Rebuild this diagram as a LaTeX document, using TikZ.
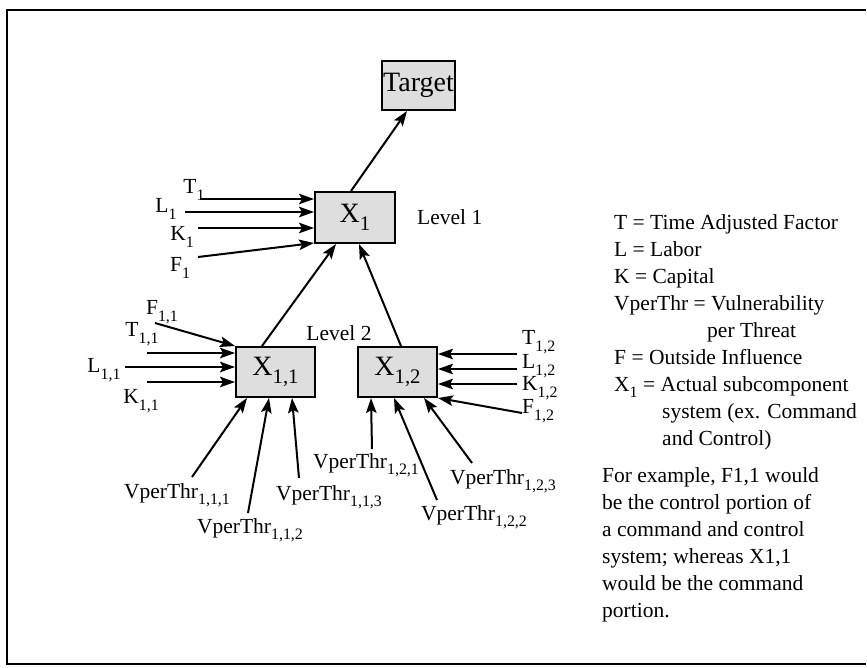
\documentclass[tikz,border=0pt]{standalone}
\usepackage{fontspec}
\usepackage{graphicx}
\setmainfont{Liberation Serif}
\usetikzlibrary{arrows.meta}
\newcommand\lblfont{\fontsize{21.5}{25}\selectfont}
\newcommand\bxfont{\fontsize{28}{32}\selectfont}
\newcommand\sbs[1]{\raisebox{-0.3em}{\scalebox{0.74}{#1}}}
\begin{document}
\begin{tikzpicture}[x=1pt,y=-1pt,
  box/.style={draw, line width=2pt, fill=black!13, inner sep=0pt, font=\bxfont},
  arr/.style={line width=2pt, -{Stealth[length=15pt,width=10.5pt,inset=3pt]}},
  lbl/.style={font=\lblfont, inner sep=0pt},
  lg/.style={font=\lblfont, inner sep=0pt, anchor=base west}]
\useasboundingbox (0,0) rectangle (867,667);
% frame
\draw[line width=1.6pt] (866,10) -- (7,10) -- (7,664) -- (866,664);

% boxes
\node[box, minimum width=73pt, minimum height=49pt] (tgt) at (418.5,85.5) {Target};
\node[box, minimum width=80pt, minimum height=51pt] (x1) at (355,217.5) {X\sbs{1}};
\node[box, minimum width=79pt, minimum height=50pt] (x11) at (275.5,372) {X\sbs{1,1}};
\node[box, minimum width=79pt, minimum height=50pt] (x12) at (397.5,372) {X\sbs{1,2}};

% level links
\draw[arr] ([xshift=37pt]x1.north west) -- ([xshift=26pt]tgt.south west);
\draw[arr] ([xshift=27pt]x11.north west) -- ([xshift=22pt]x1.south west);
\draw[arr] ([xshift=44pt]x12.north west) -- ([xshift=45pt]x1.south west);

% level labels
\node[lbl, anchor=west] (lev1) at (417,217) {Level 1};
\node[lbl] (lev2) at (339,333) {Level 2};

% inputs to X1
\node[lbl] (t1) at (194,190) {T\sbs{1}};
\node[lbl] (l1) at (166,209) {L\sbs{1}};
\node[lbl] (k1) at (182,237) {K\sbs{1}};
\node[lbl] (f1) at (180,268) {F\sbs{1}};
\coordinate (t1s) at (200,199);
\coordinate (l1s) at (185,212);
\coordinate (k1s) at (198,228);
\coordinate (f1s) at (198,257);
\draw[arr] (t1s) -- (t1s -| x1.west);
\draw[arr] (l1s) -- (l1s -| x1.west);
\draw[arr] (k1s) -- (k1s -| x1.west);
\draw[arr] (f1s) -- ([yshift=1pt]x1.south west);

% inputs to X11
\node[lbl] (f11) at (162,312) {F\sbs{1,1}};
\node[lbl] (t11) at (142,334) {T\sbs{1,1}};
\node[lbl] (l11) at (104,370) {L\sbs{1,1}};
\node[lbl] (k11) at (141,401) {K\sbs{1,1}};
\coordinate (f11s) at (155,323);
\coordinate (t11s) at (147,353);
\coordinate (l11s) at (125,367);
\coordinate (k11s) at (147,382);
\draw[arr] (f11s) -- (x11.north west);
\draw[arr] (t11s) -- (t11s -| x11.west);
\draw[arr] (l11s) -- (l11s -| x11.west);
\draw[arr] (k11s) -- (k11s -| x11.west);

% inputs to X12
\node[lbl, anchor=west] (t12) at (522,342) {T\sbs{1,2}};
\node[lbl, anchor=west] (l12) at (522,366) {L\sbs{1,2}};
\node[lbl, anchor=west] (k12) at (522,388) {K\sbs{1,2}};
\node[lbl, anchor=west] (f12) at (522,411) {F\sbs{1,2}};
\coordinate (t12s) at (517,354);
\coordinate (l12s) at (517,369);
\coordinate (k12s) at (517,384);
\coordinate (f12s) at (522,413);
\draw[arr] (t12s) -- (t12s -| x12.east);
\draw[arr] (l12s) -- (l12s -| x12.east);
\draw[arr] (k12s) -- (k12s -| x12.east);
\draw[arr] (f12s) -- (x12.south east);

% vulnerabilities X11
\node[lbl] (v111) at (177,495) {VperThr\sbs{1,1,1}};
\node[lbl] (v112) at (250,530) {VperThr\sbs{1,1,2}};
\node[lbl] (v113) at (329,497) {VperThr\sbs{1,1,3}};
\coordinate (v111s) at (192,477);
\coordinate (v112s) at (248,513);
\coordinate (v113s) at (299,478);
\draw[arr] (v111s) -- ([xshift=12pt]x11.south west);
\draw[arr] (v112s) -- ([xshift=34pt]x11.south west);
\draw[arr] (v113s) -- ([xshift=57pt]x11.south west);

% vulnerabilities X12
\node[lbl] (v121) at (366,465) {VperThr\sbs{1,2,1}};
\node[lbl] (v122) at (474,517) {VperThr\sbs{1,2,2}};
\node[lbl] (v123) at (503,481) {VperThr\sbs{1,2,3}};
\coordinate (v121s) at (372,449);
\coordinate (v122s) at (437,500);
\coordinate (v123s) at (472,463);
\draw[arr] (v121s) -- ([xshift=14pt]x12.south west);
\draw[arr] (v122s) -- ([xshift=37pt]x12.south west);
\draw[arr] (v123s) -- ([xshift=67pt]x12.south west);

% legend
\node[lg] (lg1) at (614,229) {T = Time Adjusted Factor};
\node[lg] (lg2) at (614,256) {L = Labor};
\node[lg] (lg3) at (614,283) {K = Capital};
\node[lg] (lg4) at (614,310) {VperThr = Vulnerability};
\node[lg] (lg5) at (707,337) {per Threat};
\node[lg] (lg6) at (614,364) {F = Outside Influence};
\node[lg] (lg7) at (614,391) {X\sbs{1} = Actual subcomponent};
\node[lg] (lg8) at (662,418) {system (ex. Command};
\node[lg] (lg9) at (662,445) {and Control)};
\node[lg] (lg10) at (602,482) {For example, F1,1 would};
\node[lg] (lg11) at (602,509) {be the control portion of};
\node[lg] (lg12) at (602,536) {a command and control};
\node[lg] (lg13) at (602,563) {system; whereas X1,1};
\node[lg] (lg14) at (602,590) {would be the command};
\node[lg] (lg15) at (602,617) {portion.};
\end{tikzpicture}
\end{document}
